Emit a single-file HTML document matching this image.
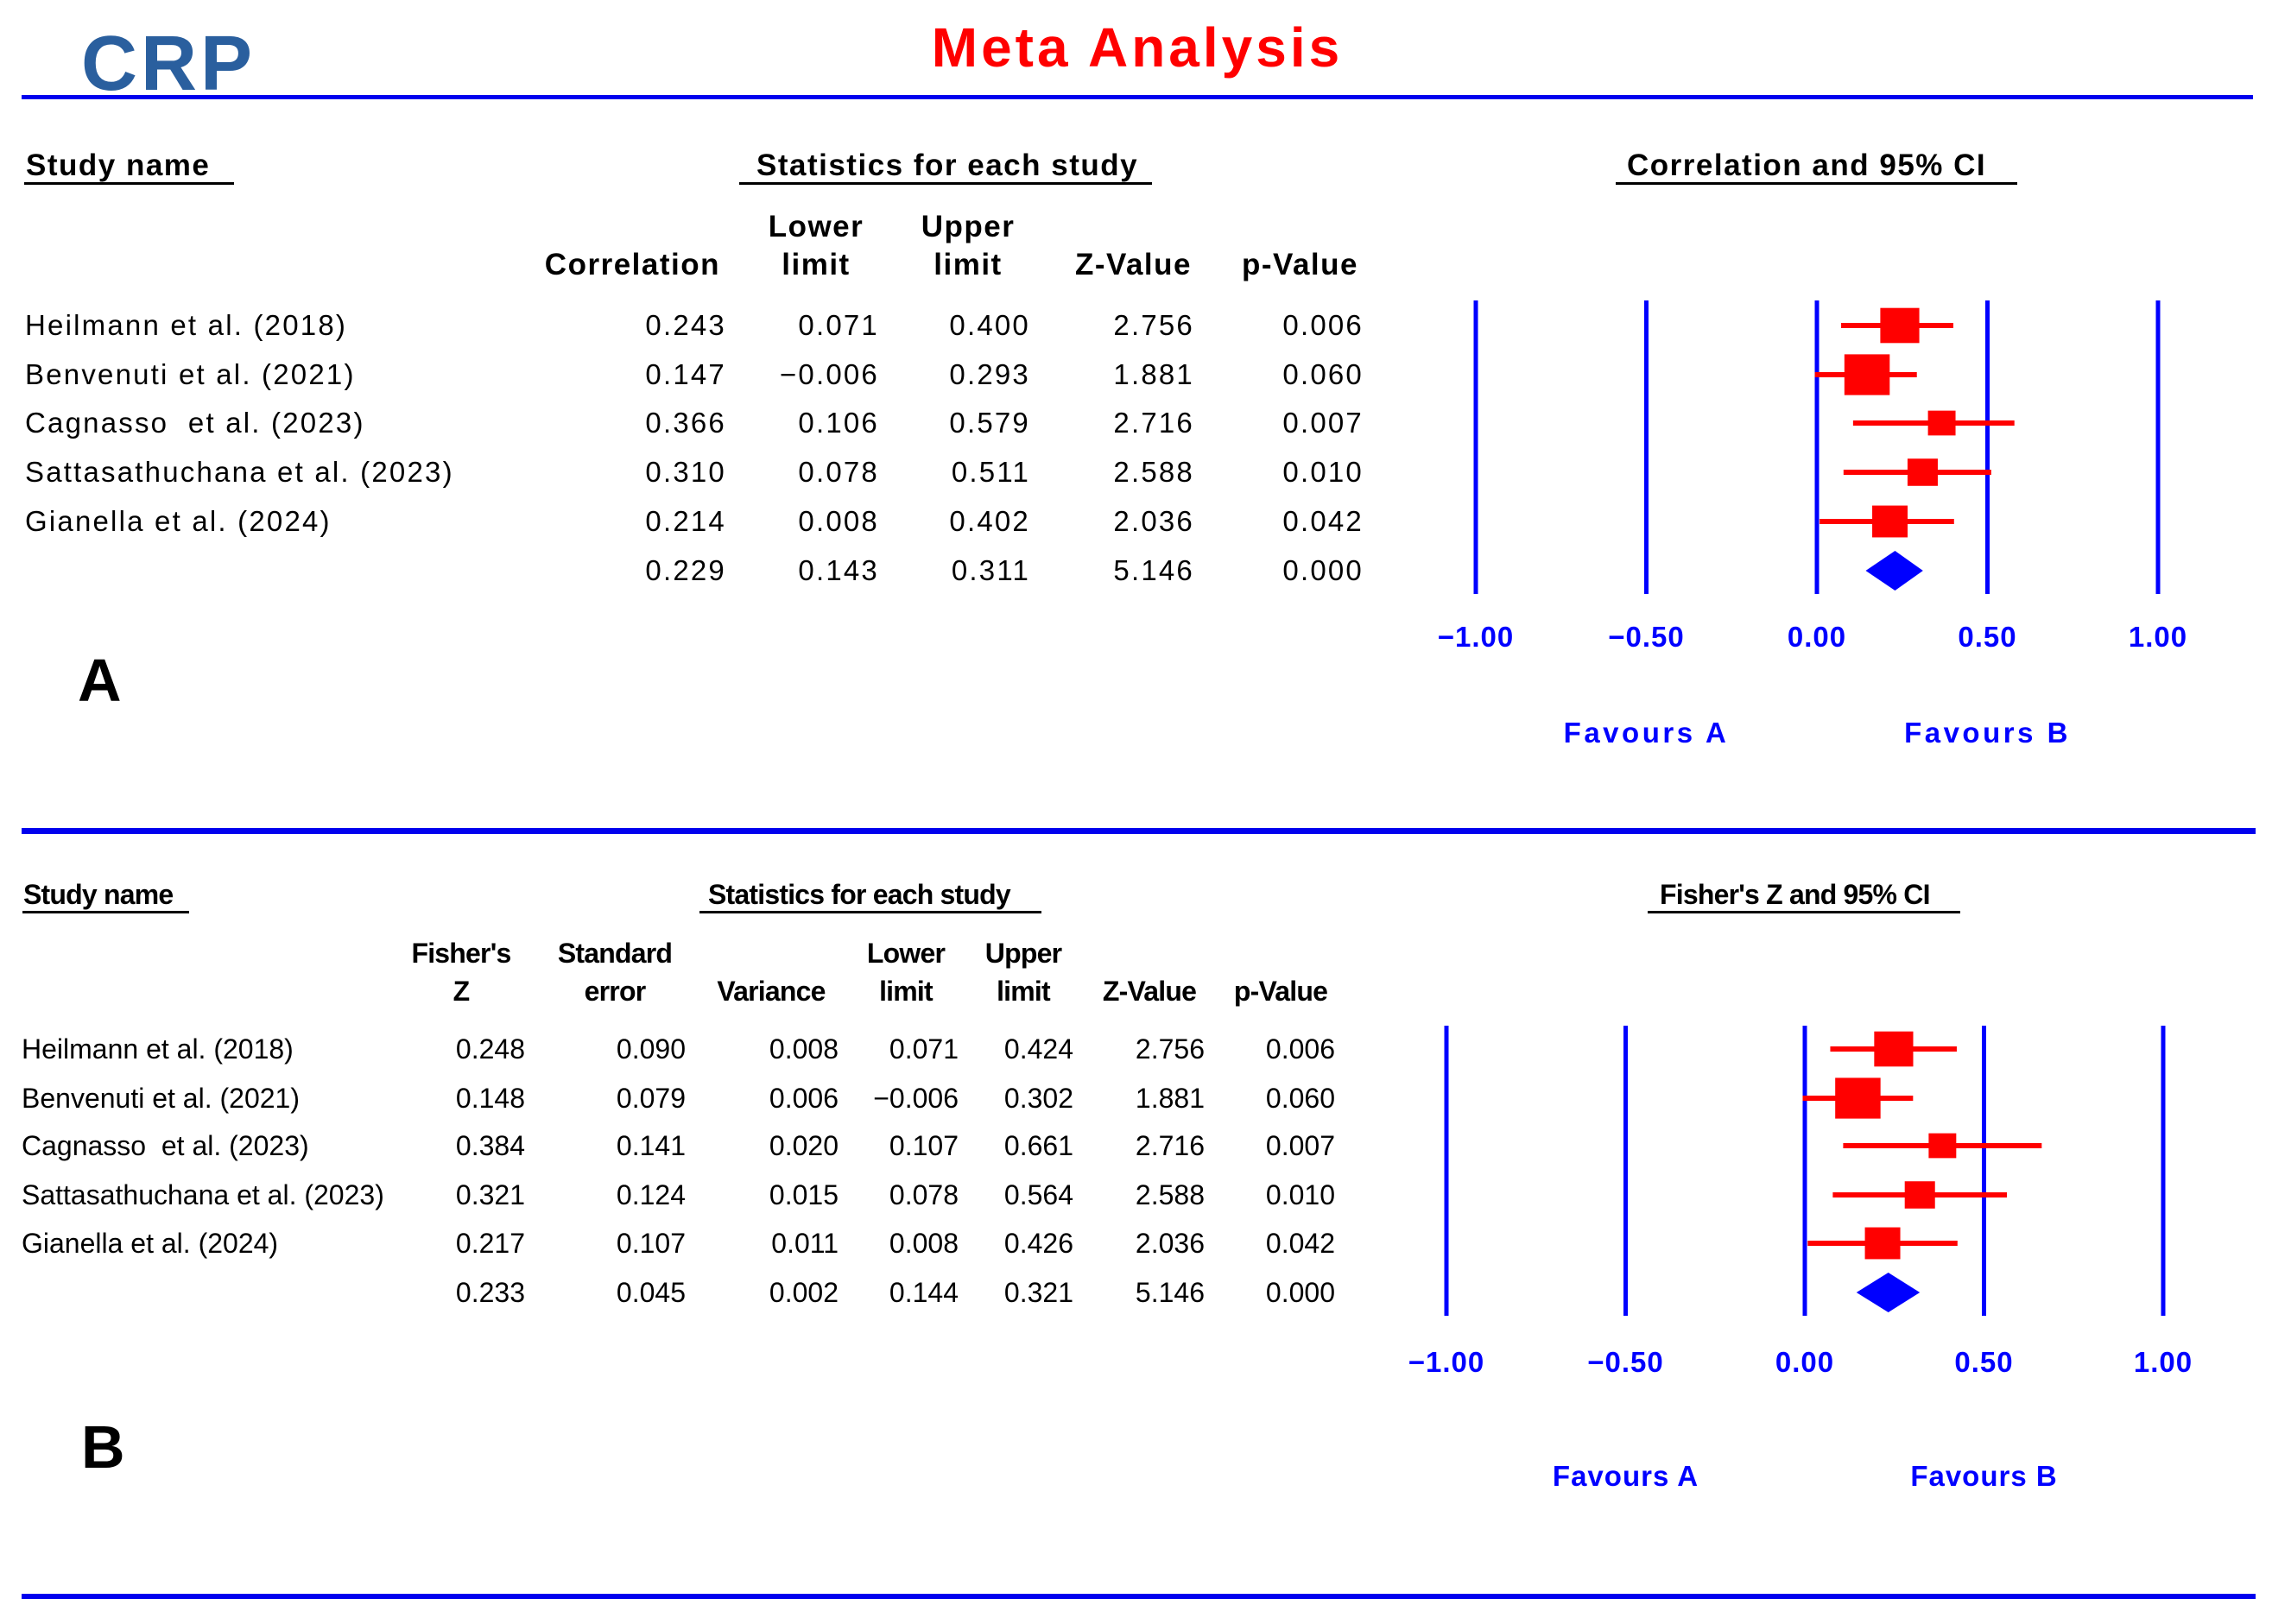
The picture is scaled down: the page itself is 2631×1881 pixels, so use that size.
<!DOCTYPE html>
<html><head><meta charset="utf-8"><style>
html,body{margin:0;padding:0;background:#fff}
svg{display:block;font-family:"Liberation Sans",Arial,sans-serif}
text{white-space:pre}
</style></head><body>
<svg id="fig" width="2631" height="1881" viewBox="0 0 2631 1881" xmlns="http://www.w3.org/2000/svg">
<text x="94" y="104" font-size="90" font-weight="bold" letter-spacing="4" fill="#2a5f9e">CRP</text>
<text x="1317" y="77" font-size="64" font-weight="bold" letter-spacing="4" fill="#ff0000" text-anchor="middle">Meta Analysis</text>
<rect x="25" y="110" width="2584" height="5" fill="#0000ee"/>
<rect x="25" y="959" width="2587" height="7" fill="#0000ee"/>
<rect x="25" y="1846" width="2587" height="6" fill="#0000ee"/>
<g id="panelA"></g>
<g id="panelB"></g>
</svg>
<script>
// ---------- Panel A data ----------
const namesA = ["Heilmann et al. (2018)","Benvenuti et al. (2021)","Cagnasso  et al. (2023)","Sattasathuchana et al. (2023)","Gianella et al. (2024)"];
const corrA = [0.243,0.147,0.366,0.310,0.214];
const lowerA = [0.071,-0.006,0.106,0.078,0.008];
const upperA = [0.400,0.293,0.579,0.511,0.402];
const zA = [2.756,1.881,2.716,2.588,2.036];
const pA = [0.006,0.060,0.007,0.010,0.042];
const weightsA = [22.6,30.5,11.3,13.6,18.6];
const summaryA = [0.229,0.143,0.311,5.146,0.000];
const ticksA = [-1,-0.5,0,0.5,1];
// ---------- Panel B data ----------
const namesB = namesA;
const fisherB = [0.248,0.148,0.384,0.321,0.217];
const seB = [0.090,0.079,0.141,0.124,0.107];
const varB = [0.008,0.006,0.020,0.015,0.011];
const lowerB = [0.071,-0.006,0.107,0.078,0.008];
const upperB = [0.424,0.302,0.661,0.564,0.426];
const zB = [2.756,1.881,2.716,2.588,2.036];
const pB = [0.006,0.060,0.007,0.010,0.042];
const weightsB = [22.6,30.5,11.3,13.6,18.6];
const summaryB = [0.233,0.045,0.002,0.144,0.321,5.146,0.000];
const ticksB = [-1,-0.5,0,0.5,1];

const NS="http://www.w3.org/2000/svg";
function mk(parent,tag,attrs){const e=document.createElementNS(NS,tag);for(const k in attrs)e.setAttribute(k,attrs[k]);parent.appendChild(e);return e;}
function txt(parent,x,y,s,attrs){const e=mk(parent,"text",Object.assign({x:x,y:y},attrs||{}));e.textContent=s;return e;}
function fmt(v){const s=Math.abs(v).toFixed(3);return (v<0?"\u2212":"")+s;}
function fmt2(v){const s=Math.abs(v).toFixed(2);return (v<0?"\u2212":"")+s;}

function buildPanel(g,cfg){
  const fs=cfg.fs, ls=cfg.ls;
  cfg.headers.forEach(h=>{
    const t=txt(g,h.x,h.y,h.s,{"font-size":cfg.hfs,"font-weight":"bold","letter-spacing":cfg.hls,"text-anchor":h.a||"start"});
    
    
    const u=mk(g,"rect",{x:h.ux,y:h.y+8,width:h.uw,height:3,fill:"#000"});
    
    
  });
  cfg.colHeads.forEach(c=>{
    c.lines.forEach((s,i)=>{
      if(!s)return;
      const t=txt(g,c.x,c.ys[i],s,{"font-size":cfg.cfs,"font-weight":"bold","letter-spacing":cfg.hls,"text-anchor":c.a});
      
      
    });
  });
  cfg.names.forEach((n,i)=>{
    const t=txt(g,cfg.nameX,cfg.rowY[i]+11,n,{"font-size":fs,"letter-spacing":ls});
    
    
    cfg.cols.forEach(c=>{
      const v=txt(g,c.x,cfg.rowY[i]+11,fmt(c.data[i]),{"font-size":fs,"letter-spacing":ls,"text-anchor":"end"});
      
      
    });
  });
  cfg.cols.forEach((c,j)=>{
    const v=txt(g,c.x,cfg.rowY[5]+11,fmt(cfg.summary[j]),{"font-size":fs,"letter-spacing":ls,"text-anchor":"end"});
    
    
  });
  const sx=v=>cfg.x0+v*cfg.unit;
  cfg.ticks.forEach(t=>{
    const l=mk(g,"rect",{x:sx(t)-2.5,y:cfg.lineTop,width:5,height:cfg.lineBot-cfg.lineTop,fill:"#0000ff"});
    
    
    const tl=txt(g,sx(t),cfg.tickY,fmt2(t),{"font-size":33,"font-weight":"bold",fill:"#0000ff","text-anchor":"middle","letter-spacing":1});
    
    
  });
  cfg.est.forEach((e,i)=>{
    const y=cfg.rowY[i];
    const ci=mk(g,"rect",{x:sx(cfg.lo[i]),y:y-3,width:sx(cfg.hi[i])-sx(cfg.lo[i]),height:6,fill:"#ff0000"});
    
    
    const s=9.5*Math.sqrt(cfg.w[i]);
    const sq=mk(g,"rect",{x:sx(e)-s/2,y:y-s*0.45,width:s,height:s*0.9,fill:"#ff0000"});
    
    
  });
  const yd=cfg.rowY[5], h=23;
  const d=mk(g,"polygon",{points:`${sx(cfg.sumLo)},${yd} ${sx(cfg.sumEst)},${yd-h} ${sx(cfg.sumHi)},${yd} ${sx(cfg.sumEst)},${yd+h}`,fill:"#0000ff"});
  
  
  const fa=txt(g,sx(-0.5),cfg.favY,"Favours A",{"font-size":33,"font-weight":"bold",fill:"#0000ff","text-anchor":"middle","letter-spacing":cfg.favls});
  
  
  const fb=txt(g,sx(0.5),cfg.favY,"Favours B",{"font-size":33,"font-weight":"bold",fill:"#0000ff","text-anchor":"middle","letter-spacing":cfg.favls});
  
  
  const pl=txt(g,cfg.letterX,cfg.letterY,cfg.letter,{"font-size":70,"font-weight":"bold"});
  
  
}

buildPanel(document.getElementById('panelA'),{
  fs:33,ls:2.2,hfs:35,cfs:35,hls:1.5,
  headers:[{x:30,y:203,s:"Study name",ux:28,uw:243},{x:876,y:203,s:"Statistics for each study",ux:856,uw:478},{x:1884,y:203,s:"Correlation and 95% CI",ux:1871,uw:465}],
  colHeads:[{x:834,a:"end",lines:["","Correlation"],ys:[274,318]},{x:945,a:"middle",lines:["Lower","limit"],ys:[274,318]},{x:1121,a:"middle",lines:["Upper","limit"],ys:[274,318]},{x:1380,a:"end",lines:["","Z-Value"],ys:[274,318]},{x:1573,a:"end",lines:["","p-Value"],ys:[274,318]}],
  names:namesA,nameX:29,rowY:[377,434,490,547,604,661],
  cols:[{x:841,data:corrA},{x:1018,data:lowerA},{x:1193,data:upperA},{x:1383,data:zA},{x:1579,data:pA}],
  summary:summaryA,
  x0:2104,unit:395,ticks:ticksA,lineTop:348,lineBot:688,tickY:749,
  est:corrA,lo:lowerA,hi:upperA,w:weightsA,sumEst:summaryA[0],sumLo:summaryA[1],sumHi:summaryA[2],
  favY:860,favls:3.5,letter:"A",letterX:90,letterY:812
});
buildPanel(document.getElementById('panelB'),{
  fs:32,ls:0,hfs:32,cfs:32,hls:-0.8,
  headers:[{x:27,y:1047,s:"Study name",ux:26,uw:193},{x:820,y:1047,s:"Statistics for each study",ux:810,uw:396},{x:1922,y:1047,s:"Fisher's Z and 95% CI",ux:1908,uw:362}],
  colHeads:[{x:534,a:"middle",lines:["Fisher's","Z"],ys:[1115,1159]},{x:712,a:"middle",lines:["Standard","error"],ys:[1115,1159]},{x:893,a:"middle",lines:["","Variance"],ys:[1115,1159]},{x:1049,a:"middle",lines:["Lower","limit"],ys:[1115,1159]},{x:1185,a:"middle",lines:["Upper","limit"],ys:[1115,1159]},{x:1331,a:"middle",lines:["","Z-Value"],ys:[1115,1159]},{x:1483,a:"middle",lines:["","p-Value"],ys:[1115,1159]}],
  names:namesB,nameX:25,rowY:[1215,1272,1327,1384,1440,1497],
  cols:[{x:608,data:fisherB},{x:794,data:seB},{x:971,data:varB},{x:1110,data:lowerB},{x:1243,data:upperB},{x:1395,data:zB},{x:1546,data:pB}],
  summary:summaryB,
  x0:2090,unit:415,ticks:ticksB,lineTop:1188,lineBot:1524,tickY:1589,
  est:fisherB,lo:lowerB,hi:upperB,w:weightsB,sumEst:summaryB[0],sumLo:summaryB[3],sumHi:summaryB[4],
  favY:1721,favls:1,letter:"B",letterX:94,letterY:1700
});
</script>
</body></html>
